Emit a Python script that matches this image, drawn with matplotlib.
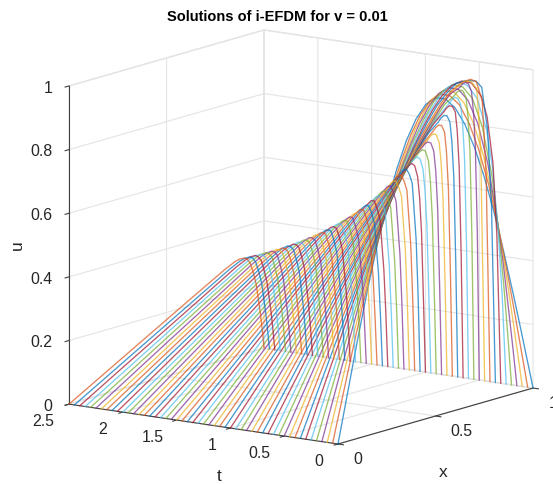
import matplotlib
matplotlib.use("Agg")
import matplotlib.pyplot as plt
from matplotlib.transforms import Affine2D
from mpl_toolkits.mplot3d import proj3d

plt.rcParams['font.family'] = ['Liberation Sans', 'DejaVu Sans']

title_text = "Solutions of i-EFDM for v = 0.01"
colors = ['#0072BD', '#D95319', '#EDB120', '#7E2F8E', '#77AC30', '#4DBEEE', '#A2142F']

t_early = [0, 0.05, 0.1, 0.15, 0.2, 0.25, 0.3, 0.35, 0.4, 0.45]
x_early = [0, .1, .15, .2, .25, .3, .35, .4, .45, .5, .55, .6, .65, .7, .75, .8, .85, .9, .93, .96, .98, 1]
u_early = [
 [0, .309, .454, .588, .707, .809, .891, .951, .988, 1, .988, .951, .891, .809, .707, .588, .454, .309, .218, .125, .063, 0],
 [0, .268, .397, .519, .634, .735, .822, .897, .953, .988, 1, .987, .949, .882, .789, .672, .529, .364, .258, .148, .075, 0],
 [0, .237, .35, .464, .571, .667, .757, .836, .904, .955, .988, 1, .987, .945, .871, .763, .618, .437, .313, .181, .092, 0],
 [0, .212, .314, .418, .517, .608, .696, .776, .848, .911, .958, .989, .998, .984, .94, .858, .727, .536, .396, .233, .119, 0],
 [0, .192, .286, .379, .471, .558, .642, .718, .794, .858, .914, .959, .986, .996, .98, .935, .838, .673, .518, .323, .167, 0],
 [0, .175, .261, .347, .432, .513, .593, .668, .74, .806, .867, .918, .958, .985, .992, .975, .925, .816, .694, .484, .278, 0],
 [0, .161, .241, .32, .398, .475, .549, .622, .69, .756, .817, .873, .92, .957, .98, .985, .97, .92, .85, .70, .47, 0],
 [0, .149, .223, .297, .369, .441, .512, .58, .646, .711, .771, .828, .878, .922, .953, .975, .975, .965, .94, .80, .56, 0],
 [0, .139, .208, .277, .344, .411, .477, .542, .605, .668, .728, .785, .835, .878, .92, .948, .965, .968, .955, .89, .66, 0],
 [0, .13, .195, .259, .322, .385, .446, .51, .571, .63, .687, .743, .794, .84, .885, .92, .945, .96, .953, .925, .73, 0],
]

t_mid = [0.5, 0.55, 0.6, 0.65, 0.7, 0.75, 0.8, 0.85, 0.9, 0.95, 1]
x_mid = [0, .2, .4, .6, .7, .8, .85, .9, .915, .93, .945, .96, .97, .98, .99, 1]
u_mid = [
 [0, .243, .481, .702, .805, .89, .925, .937, .946, .948, .94, .915, .85, .74, .47, 0],
 [0, .229, .454, .667, .767, .852, .89, .909, .918, .921, .915, .892, .83, .72, .45, 0],
 [0, .217, .431, .635, .731, .821, .853, .881, .891, .896, .89, .868, .805, .695, .42, 0],
 [0, .206, .409, .605, .698, .788, .825, .852, .862, .867, .862, .842, .78, .665, .39, 0],
 [0, .196, .389, .577, .667, .753, .792, .818, .829, .834, .83, .808, .745, .63, .36, 0],
 [0, .187, .371, .55, .636, .722, .757, .786, .796, .801, .797, .774, .71, .59, .33, 0],
 [0, .178, .355, .527, .61, .691, .73, .756, .766, .771, .766, .739, .675, .555, .30, 0],
 [0, .171, .34, .506, .586, .665, .704, .731, .74, .743, .737, .709, .645, .525, .28, 0],
 [0, .164, .326, .486, .563, .639, .676, .703, .712, .716, .709, .677, .612, .495, .26, 0],
 [0, .157, .314, .467, .542, .615, .651, .678, .687, .691, .682, .647, .58, .465, .24, 0],
 [0, .152, .302, .45, .522, .594, .629, .656, .664, .668, .658, .621, .555, .442, .225, 0],
]

t_late = [1.05, 1.1, 1.15, 1.2, 1.25, 1.3, 1.35,
          1.4, 1.45, 1.5, 1.55, 1.6, 1.65, 1.7, 1.75, 1.8, 1.85, 1.9, 1.95, 2, 2.05, 2.1, 2.15, 2.2, 2.25,
          2.3, 2.35, 2.4, 2.45, 2.5]
x_late = [0, .2, .4, .6, .7, .8, .85, .875, .9, .915, .93, .945, .96, .98, .99, 1]
u_late = [
 [0, .146, .291, .434, .504, .574, .608, .626, .641, .648, .647, .629, .597, .417, .24, 0],
 [0, .141, .281, .419, .487, .554, .588, .605, .62, .627, .626, .606, .574, .396, .225, 0],
 [0, .136, .272, .405, .471, .536, .569, .585, .599, .606, .606, .585, .552, .376, .21, 0],
 [0, .132, .263, .392, .456, .519, .551, .567, .58, .588, .588, .566, .533, .36, .20, 0],
 [0, .127, .254, .38, .442, .503, .534, .55, .563, .57, .569, .546, .511, .341, .19, 0],
 [0, .124, .247, .369, .429, .489, .518, .533, .546, .552, .55, .526, .49, .324, .18, 0],
 [0, .12, .239, .358, .416, .474, .504, .518, .53, .536, .533, .507, .47, .307, .17, 0],
 [0, .116, .232, .347, .404, .461, .489, .503, .515, .519, .515, .489, .451, .292, .16, 0],
 [0, .113, .226, .338, .393, .448, .476, .489, .499, .504, .5, .472, .433, .278, .15, 0],
 [0, .11, .22, .328, .383, .436, .463, .476, .486, .489, .484, .456, .416, .264, .145, 0],
 [0, .107, .214, .32, .373, .425, .451, .463, .472, .475, .47, .44, .399, .252, .138, 0],
 [0, .104, .208, .312, .363, .414, .44, .451, .46, .462, .456, .426, .385, .241, .132, 0],
 [0, .102, .203, .304, .354, .404, .429, .44, .448, .449, .442, .412, .371, .23, .126, 0],
 [0, .099, .198, .296, .345, .394, .418, .429, .437, .437, .429, .398, .357, .22, .12, 0],
 [0, .097, .193, .289, .337, .385, .408, .418, .425, .425, .417, .385, .343, .21, .115, 0],
 [0, .094, .189, .282, .329, .376, .398, .407, .414, .414, .405, .372, .331, .201, .11, 0],
 [0, .092, .184, .276, .322, .367, .389, .398, .405, .403, .393, .36, .319, .193, .105, 0],
 [0, .09, .18, .27, .314, .359, .38, .389, .395, .392, .382, .349, .307, .185, .10, 0],
 [0, .088, .176, .264, .308, .351, .372, .38, .385, .382, .372, .339, .297, .178, .096, 0],
 [0, .086, .172, .258, .301, .344, .364, .372, .376, .372, .361, .329, .287, .17, .092, 0],
 [0, .084, .169, .253, .295, .337, .356, .363, .367, .363, .352, .319, .277, .164, .088, 0],
 [0, .083, .165, .248, .289, .33, .349, .356, .359, .354, .342, .309, .267, .157, .084, 0],
 [0, .081, .162, .243, .283, .323, .341, .347, .35, .345, .333, .30, .259, .151, .081, 0],
 [0, .079, .159, .238, .277, .317, .334, .34, .343, .338, .325, .292, .251, .146, .078, 0],
 [0, .078, .156, .233, .272, .311, .328, .333, .335, .33, .317, .284, .242, .141, .075, 0],
 [0, .076, .153, .229, .267, .305, .322, .327, .328, .322, .308, .275, .234, .136, .072, 0],
 [0, .075, .15, .225, .262, .299, .316, .32, .32, .314, .30, .268, .228, .131, .07, 0],
 [0, .074, .147, .22, .257, .294, .309, .314, .314, .307, .293, .26, .22, .126, .067, 0],
 [0, .072, .144, .216, .252, .288, .303, .307, .307, .30, .285, .254, .214, .122, .065, 0],
 [0, .071, .142, .213, .248, .283, .298, .302, .301, .294, .278, .247, .207, .118, .063, 0],
]

x_ticks = [0, 0.5, 1]
t_ticks = [0, 0.5, 1, 1.5, 2, 2.5]
u_ticks = [0, 0.2, 0.4, 0.6, 0.8, 1]

W, H = 553, 484
fig = plt.figure(figsize=(W / 100, H / 100), dpi=100)
ax = fig.add_axes([0.05, 0.05, 0.9, 0.9], projection='3d', proj_type='ortho')
ax.view_init(elev=11.9, azim=-144.3)
ax.set_box_aspect((334, 331, 325))
ax.set_xlim(0, 1, view_margin=0)
ax.set_ylim(0, 2.5, view_margin=0)
ax.set_zlim(0, 1, view_margin=0)

i = 0
for ts, xs, rows in ((t_early, x_early, u_early), (t_mid, x_mid, u_mid), (t_late, x_late, u_late)):
    for t, row in zip(ts, rows):
        ax.plot(xs, [t] * len(xs), row, color=colors[i % 7], lw=0.95, alpha=0.72)
        i += 1

ax.set_xticks(x_ticks, ['0', '0.5', '1'])
ax.set_yticks(t_ticks, ['0', '0.5', '1', '1.5', '2', '2.5'])
ax.set_zticks(u_ticks, ['0', '0.2', '0.4', '0.6', '0.8', '1'])
for axis in (ax.xaxis, ax.yaxis, ax.zaxis):
    axis.set_pane_color((1, 1, 1, 1))
    axis.pane.set_edgecolor('#e4e4e4')
    axis.line.set_color('#404040')
    axis.line.set_linewidth(0.8)
    axis._axinfo['grid'].update(color='#e4e4e4', linewidth=0.8)
    axis._axinfo['tick'].update(inward_factor=0.25, outward_factor=0.0)
ax.tick_params(labelsize=11.4, colors='#404040', labelcolor='#262626', width=0.7)
ax.set_xlabel('x', fontsize=12.5, color='#262626', labelpad=2, rotation=0)
ax.set_ylabel('t', fontsize=12.5, color='#262626', labelpad=2, rotation=0)
ax.set_zlabel('u', fontsize=12.5, color='#262626', labelpad=2, rotation=90)
ax.xaxis.set_rotate_label(False)
ax.yaxis.set_rotate_label(False)
ax.zaxis.set_rotate_label(False)

def px(x, y, z):
    a, b, _ = proj3d.proj_transform(x, y, z, ax.get_proj())
    return ax.transData.transform((a, b))

# fit the axes box to the reference's cube on the page
left_t, right_t = 69.0, 533.0
for _ in range(4):
    ax.apply_aspect()
    p_l = px(0, 2.5, 0)
    p_r = px(1, 0, 0)
    scale = (right_t - left_t) / (p_r[0] - p_l[0])
    pos = ax.get_position()
    ax.set_position([pos.x0, pos.y0, pos.width * scale, pos.height * scale])
    ax.apply_aspect()
    p0 = px(0, 0, 0)
    pos = ax.get_position()
    ax.set_position([pos.x0 + (338 - p0[0]) / W, pos.y0 + ((H - 444) - p0[1]) / H, pos.width, pos.height])

def shift(artist, dx, dy):
    # Axis3D resets these transforms while drawing, so the offset sits on the getter
    offset = Affine2D().translate(dx, dy)
    artist.get_transform = lambda: ax.transData + offset

for tick, dx in zip(ax.xaxis.get_major_ticks(), [5, 11, 5]):
    shift(tick.label1, dx, 12)
for tick, dx in zip(ax.yaxis.get_major_ticks(), [-8, -14, -7, -13, -9, -15]):
    shift(tick.label1, dx, 11)
for tick in ax.zaxis.get_major_ticks():
    shift(tick.label1, 9, 6)
    tick.label1.set_ha('right')
shift(ax.xaxis.label, -22, -17)
shift(ax.yaxis.label, 37, -11)
shift(ax.zaxis.label, 0, 2)

ax.set_title(title_text, fontsize=10.55, fontweight='bold', color='black', x=277 / W,
             y=(1 - 17 / H) / 0.92, transform=fig.transFigure, va='center', ha='center')
fig.savefig('out.png', dpi=100)
